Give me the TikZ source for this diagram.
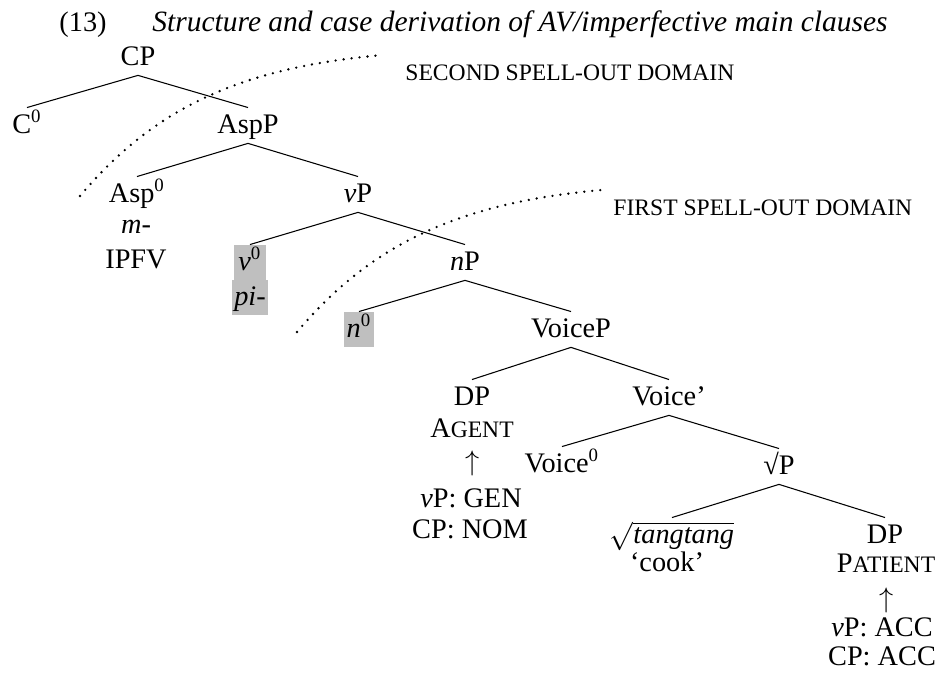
\documentclass[tikz,border=0pt]{standalone}
\usepackage{fontspec}
\setmainfont{Liberation Serif}
\usepackage{tikz}
\tikzset{>=latex}
\tikzset{cat/.style = {inner sep=0pt, text height=10.6pt, text depth=4.2pt, anchor=base}}
\tikzset{hl/.style = {cat, fill=gray!50, inner xsep=1pt}}
\tikzset{branch/.style = {-, line width=0.45pt}}
\tikzset{spell/.style = {line width=1.1pt, dash pattern=on 0pt off 3.4pt, line cap=round}}
\newcommand{\smc}[1]{{\fontsize{10}{12}\selectfont #1}}

\begin{document}
\begin{tikzpicture}[x=0.424pt, y=-0.424pt, font=\fontsize{12}{14.5}\selectfont]
                    \useasboundingbox (0,0) rectangle (941,679);

                    \node[anchor=base west, inner sep=0pt] (exnum) at (59,31) {(13)};
                    \node[anchor=base west, inner sep=0pt, font=\fontsize{12.5}{15}\selectfont] (title) at (152,31) {\textit{Structure and case derivation of AV/imperfective main clauses}};

                    \node[cat] (cp) at (138,65) {CP};
                    \node[cat] (c0) at (27,133) {C\textsuperscript{0}};
                    \node[cat] (aspp) at (248,133) {AspP};
                    \node[cat] (asp0) at (137,202) {Asp\textsuperscript{0}};
                    \node[cat] (aspm) at (136,233) {\textit{m}-};
                    \node[cat] (ipfv) at (136,268) {IPFV};
                    \node[cat] (vp) at (358,202) {\textit{v}P};
                    \node[hl, minimum width=13.3pt] (v0) at (250,270) {\textit{v}\textsuperscript{0}};
                    \node[hl, minimum width=13.3pt] (pi) at (250,305) {\textit{pi}-};
                    \node[cat] (np) at (465,270) {\textit{n}P};
                    \node[hl] (n0) at (359,337) {\textit{n}\textsuperscript{0}};
                    \node[cat] (voicep) at (571,337) {VoiceP};
                    \node[cat] (dpag) at (472,405) {DP};
                    \node[cat] (agent) at (472,437) {A\smc{GENT}};
                    \node[cat] (upag) at (473,470) {$\uparrow$};
                    \node[cat] (gen) at (471,507) {\textit{v}P: GEN};
                    \node[cat] (nom) at (470,538) {CP: NOM};
                    \node[cat] (voicebar) at (669,405) {Voice'};
                    \node[cat] (voice0) at (562,472) {Voice\textsuperscript{0}};
                    \node[cat] (rootp) at (779,474) {√P};
                    \node[cat] (root) at (672,543) {$\sqrt{\textit{tangtang}}$};
                    \node[cat] (cook) at (667,571) {`cook'};
                    \node[cat] (dppat) at (885,543) {DP};
                    \node[cat] (patient) at (886,572) {P\smc{ATIENT}};
                    \node[cat] (uppat) at (887,607) {$\uparrow$};
                    \node[cat] (acc1) at (882,636) {\textit{v}P: ACC};
                    \node[cat] (acc2) at (882,665) {CP: ACC};

                    \node[anchor=base west, inner sep=0pt] (second) at (405,80) {\smc{SECOND SPELL-OUT DOMAIN}};
                    \node[anchor=base west, inner sep=0pt] (first) at (613,215) {\smc{FIRST SPELL-OUT DOMAIN}};

                    \draw[branch] (cp.south) -- (c0.north);
                    \draw[branch] (cp.south) -- (aspp.north);
                    \draw[branch] (aspp.south) -- (asp0.north);
                    \draw[branch] (aspp.south) -- (vp.north);
                    \draw[branch] (vp.south) -- (v0.north);
                    \draw[branch] (vp.south) -- (np.north);
                    \draw[branch] (np.south) -- (n0.north);
                    \draw[branch] (np.south) -- (voicep.north);
                    \draw[branch] (voicep.south) -- (dpag.north);
                    \draw[branch] (voicep.south) -- (voicebar.north);
                    \draw[branch] (voicebar.south) -- (voice0.north);
                    \draw[branch] (voicebar.south) -- (rootp.north);
                    \draw[branch] (rootp.south) -- (root.north);
                    \draw[branch] (rootp.south) -- (dppat.north);

                    % spell-out domains
                    \coordinate (s2) at (80,196);
                    \coordinate (e2) at (383,55);
                    \coordinate (s1) at (297,332);
                    \coordinate (e1) at (602,190);
                    \draw[spell] (s2) .. controls +(71,-84) and +(-149,13) .. (e2);
                    \draw[spell] (s1) .. controls +(71,-84) and +(-149,13) .. (e1);
                \end{tikzpicture}
\end{document}
